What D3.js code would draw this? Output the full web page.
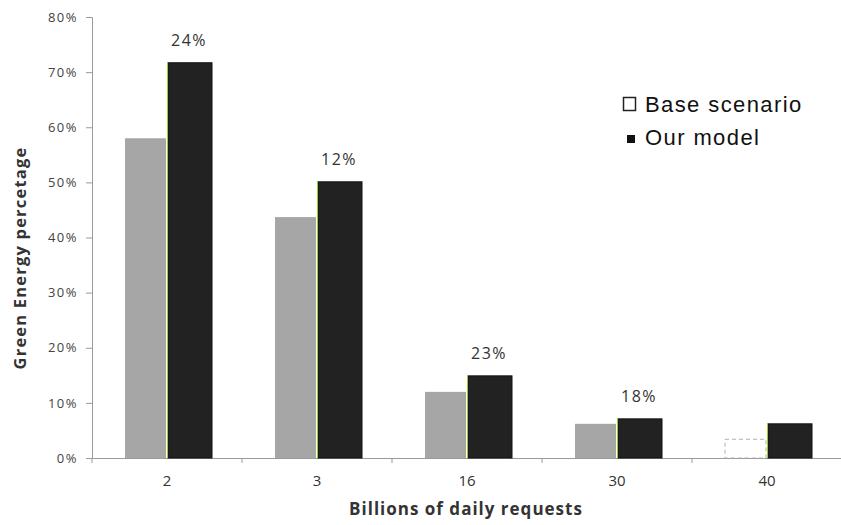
<!DOCTYPE html>
<html><head><meta charset="utf-8">
<script src="https://cdn.jsdelivr.net/npm/d3@7"></script>
<style>body{margin:0;background:#fff}</style>
</head><body>
<svg id="c" width="841" height="525"></svg>
<script>
const categories = ["2","3","16","30","40"];
const baseValues = [0.58, 0.437, 0.12, 0.062, 0.034];
const modelValues = [0.717, 0.501, 0.149, 0.071, 0.062];
const diffLabels = ["24%","12%","23%","18%",""];
const yTicks = [0,0.1,0.2,0.3,0.4,0.5,0.6,0.7,0.8];

const svg = d3.select("#c");
const x = d3.scaleBand().domain(categories).range([92, 842]).paddingInner(0).paddingOuter(0);
const y = d3.scaleLinear().domain([0,0.8]).range([458,17]);
const font = "'Open Sans', Lato, sans-serif";

// y axis
const ya = svg.append("g").attr("transform","translate(92,0)")
  .call(d3.axisLeft(y).tickValues(yTicks).tickFormat(d3.format(".0%")).tickSizeOuter(0).tickSize(6));
ya.select(".domain").attr("stroke","#9a9a9a");
ya.selectAll(".tick line").attr("stroke","#9a9a9a");
ya.selectAll(".tick text").attr("fill","#444").attr("font-size",13).attr("font-family",font)
  .attr("letter-spacing",1.5).attr("x",-14);

// x axis
const xa = svg.append("g").attr("transform","translate(0,458)")
  .call(d3.axisBottom(x).tickSize(0).tickSizeOuter(0));
xa.select(".domain").attr("stroke","#9a9a9a");
xa.selectAll(".tick text").attr("fill","#333").attr("font-size",15).attr("font-family",font)
  .attr("y",28).attr("dy",0);
// boundary ticks
const bounds = categories.map(c=>x(c)).concat([x(categories[categories.length-1])+x.bandwidth()]);
svg.append("g").selectAll("line").data(bounds).join("line")
  .attr("x1",d=>d).attr("x2",d=>d).attr("y1",458).attr("y2",463).attr("stroke","#9a9a9a");

const bw = x.bandwidth();
// base bars
svg.append("g").selectAll("rect").data(categories).join("rect")
  .attr("x",c=>x(c)+bw/2-42).attr("width",41)
  .attr("y",(c,i)=>y(baseValues[i])).attr("height",(c,i)=>y(0)-y(baseValues[i]))
  .attr("fill",(c,i)=>i===4?"#fff":"#a6a6a6")
  .attr("stroke",(c,i)=>i===4?"#b0b0b0":"none")
  .attr("stroke-dasharray",(c,i)=>i===4?"4,3":null);
// model bars
svg.append("g").selectAll("rect").data(categories).join("rect")
  .attr("x",c=>x(c)+bw/2+1).attr("width",44)
  .attr("y",(c,i)=>y(modelValues[i])).attr("height",(c,i)=>y(0)-y(modelValues[i]))
  .attr("fill","#222").attr("stroke","#111").attr("stroke-width",1);
// green left edge
svg.append("g").selectAll("line").data(categories).join("line")
  .attr("x1",c=>x(c)+bw/2+0.5).attr("x2",c=>x(c)+bw/2+0.5)
  .attr("y1",(c,i)=>y(modelValues[i])).attr("y2",458)
  .attr("stroke","#9acd32").attr("stroke-width",1);
// diff labels
svg.append("g").selectAll("text").data(categories).join("text")
  .attr("x",c=>x(c)+bw/2+22).attr("y",(c,i)=>y(modelValues[i])-17)
  .attr("text-anchor","middle").attr("font-size",16).attr("font-family",font).attr("fill","#333")
  .attr("letter-spacing",1.5)
  .text((c,i)=>diffLabels[i]);

// axis titles
svg.append("text").attr("x",466).attr("y",515).attr("text-anchor","middle")
  .attr("font-size",17).attr("font-weight","bold").attr("font-family",font).attr("fill","#333")
  .attr("letter-spacing",1)
  .text("Billions of daily requests");
svg.append("text").attr("transform","translate(26,258) rotate(-90)").attr("text-anchor","middle")
  .attr("font-size",16.5).attr("font-weight","bold").attr("font-family",font).attr("fill","#333")
  .attr("letter-spacing",1.2)
  .text("Green Energy percetage");

// legend
const lg = svg.append("g").attr("font-family","'Liberation Sans', Arial, sans-serif").attr("font-size",22).attr("fill","#111");
lg.append("rect").attr("x",623.5).attr("y",97.5).attr("width",12).attr("height",13).attr("fill","#fff").attr("stroke","#222").attr("stroke-width",1.5);
lg.append("text").attr("x",645).attr("y",112).attr("letter-spacing",1.4).text("Base scenario");
lg.append("rect").attr("x",627).attr("y",135).attr("width",8).attr("height",8).attr("fill","#111");
lg.append("text").attr("x",645).attr("y",145).attr("letter-spacing",1.4).text("Our model");
</script>
</body></html>
